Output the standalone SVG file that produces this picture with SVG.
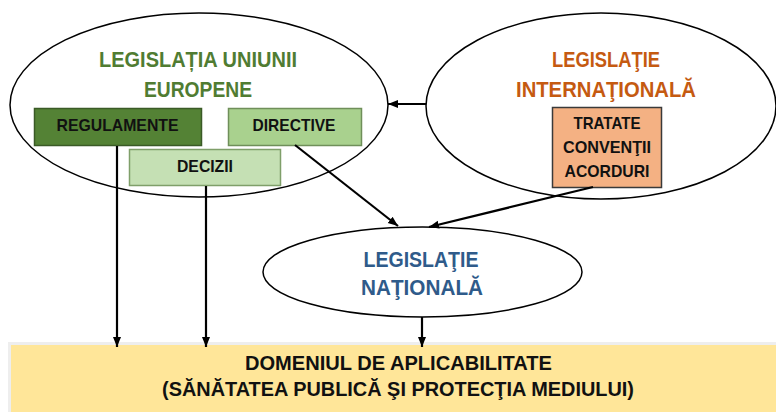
<svg xmlns="http://www.w3.org/2000/svg" width="776" height="412" viewBox="0 0 776 412">
<defs>
<marker id="ah" markerUnits="userSpaceOnUse" markerWidth="10" markerHeight="10" viewBox="0 0 10 10" refX="10" refY="5" orient="auto">
<path d="M0,1 L10,5 L0,9 Z" fill="#000"/>
</marker>
<style>
.ell{fill:#fff;stroke:#000;stroke-width:1.5}
.t{font-family:"Liberation Sans",Arial,sans-serif;font-weight:bold;text-anchor:middle}
.title{font-size:22px}
.box{font-size:17px;fill:#111}
.conn line{stroke:#000;stroke-width:2.2;marker-end:url(#ah)}
</style>
</defs>
<rect width="776" height="412" fill="#fff"/>

<g id="eu">
<ellipse class="ell" cx="199" cy="105" rx="189" ry="92"/>
<text class="t title" x="198" y="67" fill="#507c32" textLength="198" lengthAdjust="spacingAndGlyphs">LEGISLAȚIA UNIUNII</text>
<text class="t title" x="198" y="97" fill="#507c32" textLength="108" lengthAdjust="spacingAndGlyphs">EUROPENE</text>
</g>

<g id="intl">
<ellipse class="ell" cx="601" cy="106" rx="175" ry="93"/>
<text class="t title" x="606" y="67" fill="#c55a11" textLength="108" lengthAdjust="spacingAndGlyphs">LEGISLAŢIE</text>
<text class="t title" x="606" y="97" fill="#c55a11" textLength="180" lengthAdjust="spacingAndGlyphs">INTERNAŢIONALĂ</text>
</g>

<g id="regulamente">
<rect x="34.5" y="108.5" width="167" height="37" fill="#548235" stroke="#3a5a26" stroke-width="1.5"/>
<text class="t box" x="117.5" y="131" textLength="122" lengthAdjust="spacingAndGlyphs">REGULAMENTE</text>
</g>

<g id="directive">
<rect x="228.5" y="108.5" width="133" height="37" fill="#a9d18e" stroke="#6f8f5a" stroke-width="1.5"/>
<text class="t box" x="294" y="131" textLength="83" lengthAdjust="spacingAndGlyphs">DIRECTIVE</text>
</g>

<g id="decizii">
<rect x="129.5" y="149.5" width="151" height="36" fill="#c5e0b4" stroke="#7f9f6a" stroke-width="1.5"/>
<text class="t box" x="205" y="172" textLength="56" lengthAdjust="spacingAndGlyphs">DECIZII</text>
</g>

<g id="tratate">
<rect x="552.5" y="107.5" width="109" height="80" fill="#f4b183" stroke="#3a3a3a" stroke-width="1.5"/>
<text class="t box" x="607" y="129" textLength="67" lengthAdjust="spacingAndGlyphs">TRATATE</text>
<text class="t box" x="607" y="153" textLength="88" lengthAdjust="spacingAndGlyphs">CONVENŢII</text>
<text class="t box" x="607" y="177" textLength="85" lengthAdjust="spacingAndGlyphs">ACORDURI</text>
</g>

<g id="national">
<ellipse class="ell" cx="422.5" cy="272" rx="159.5" ry="45"/>
<text class="t title" x="421" y="267" fill="#2f5b8a" textLength="115" lengthAdjust="spacingAndGlyphs">LEGISLAŢIE</text>
<text class="t title" x="422" y="295" fill="#2f5b8a" textLength="122" lengthAdjust="spacingAndGlyphs">NAŢIONALĂ</text>
</g>

<g id="domeniu">
<rect x="8" y="342" width="770" height="72" fill="#eeeeee"/>
<rect x="11" y="345" width="767" height="69" fill="#ffe699"/>
<text class="t" x="398.5" y="369.5" font-size="21" fill="#111" textLength="307" lengthAdjust="spacingAndGlyphs">DOMENIUL DE APLICABILITATE</text>
<text class="t" x="398" y="396" font-size="21" fill="#111" textLength="472" lengthAdjust="spacingAndGlyphs">(SĂNĂTATEA PUBLICĂ ŞI PROTECŢIA MEDIULUI)</text>
</g>

<g id="connectors" class="conn">
<line x1="426" y1="104" x2="388" y2="104"/>
<line x1="117" y1="146" x2="117" y2="347"/>
<line x1="206" y1="186" x2="206" y2="347"/>
<line x1="295" y1="145" x2="398" y2="226"/>
<line x1="593" y1="187" x2="429" y2="227"/>
<line x1="422" y1="317" x2="422" y2="347"/>
</g>
</svg>
